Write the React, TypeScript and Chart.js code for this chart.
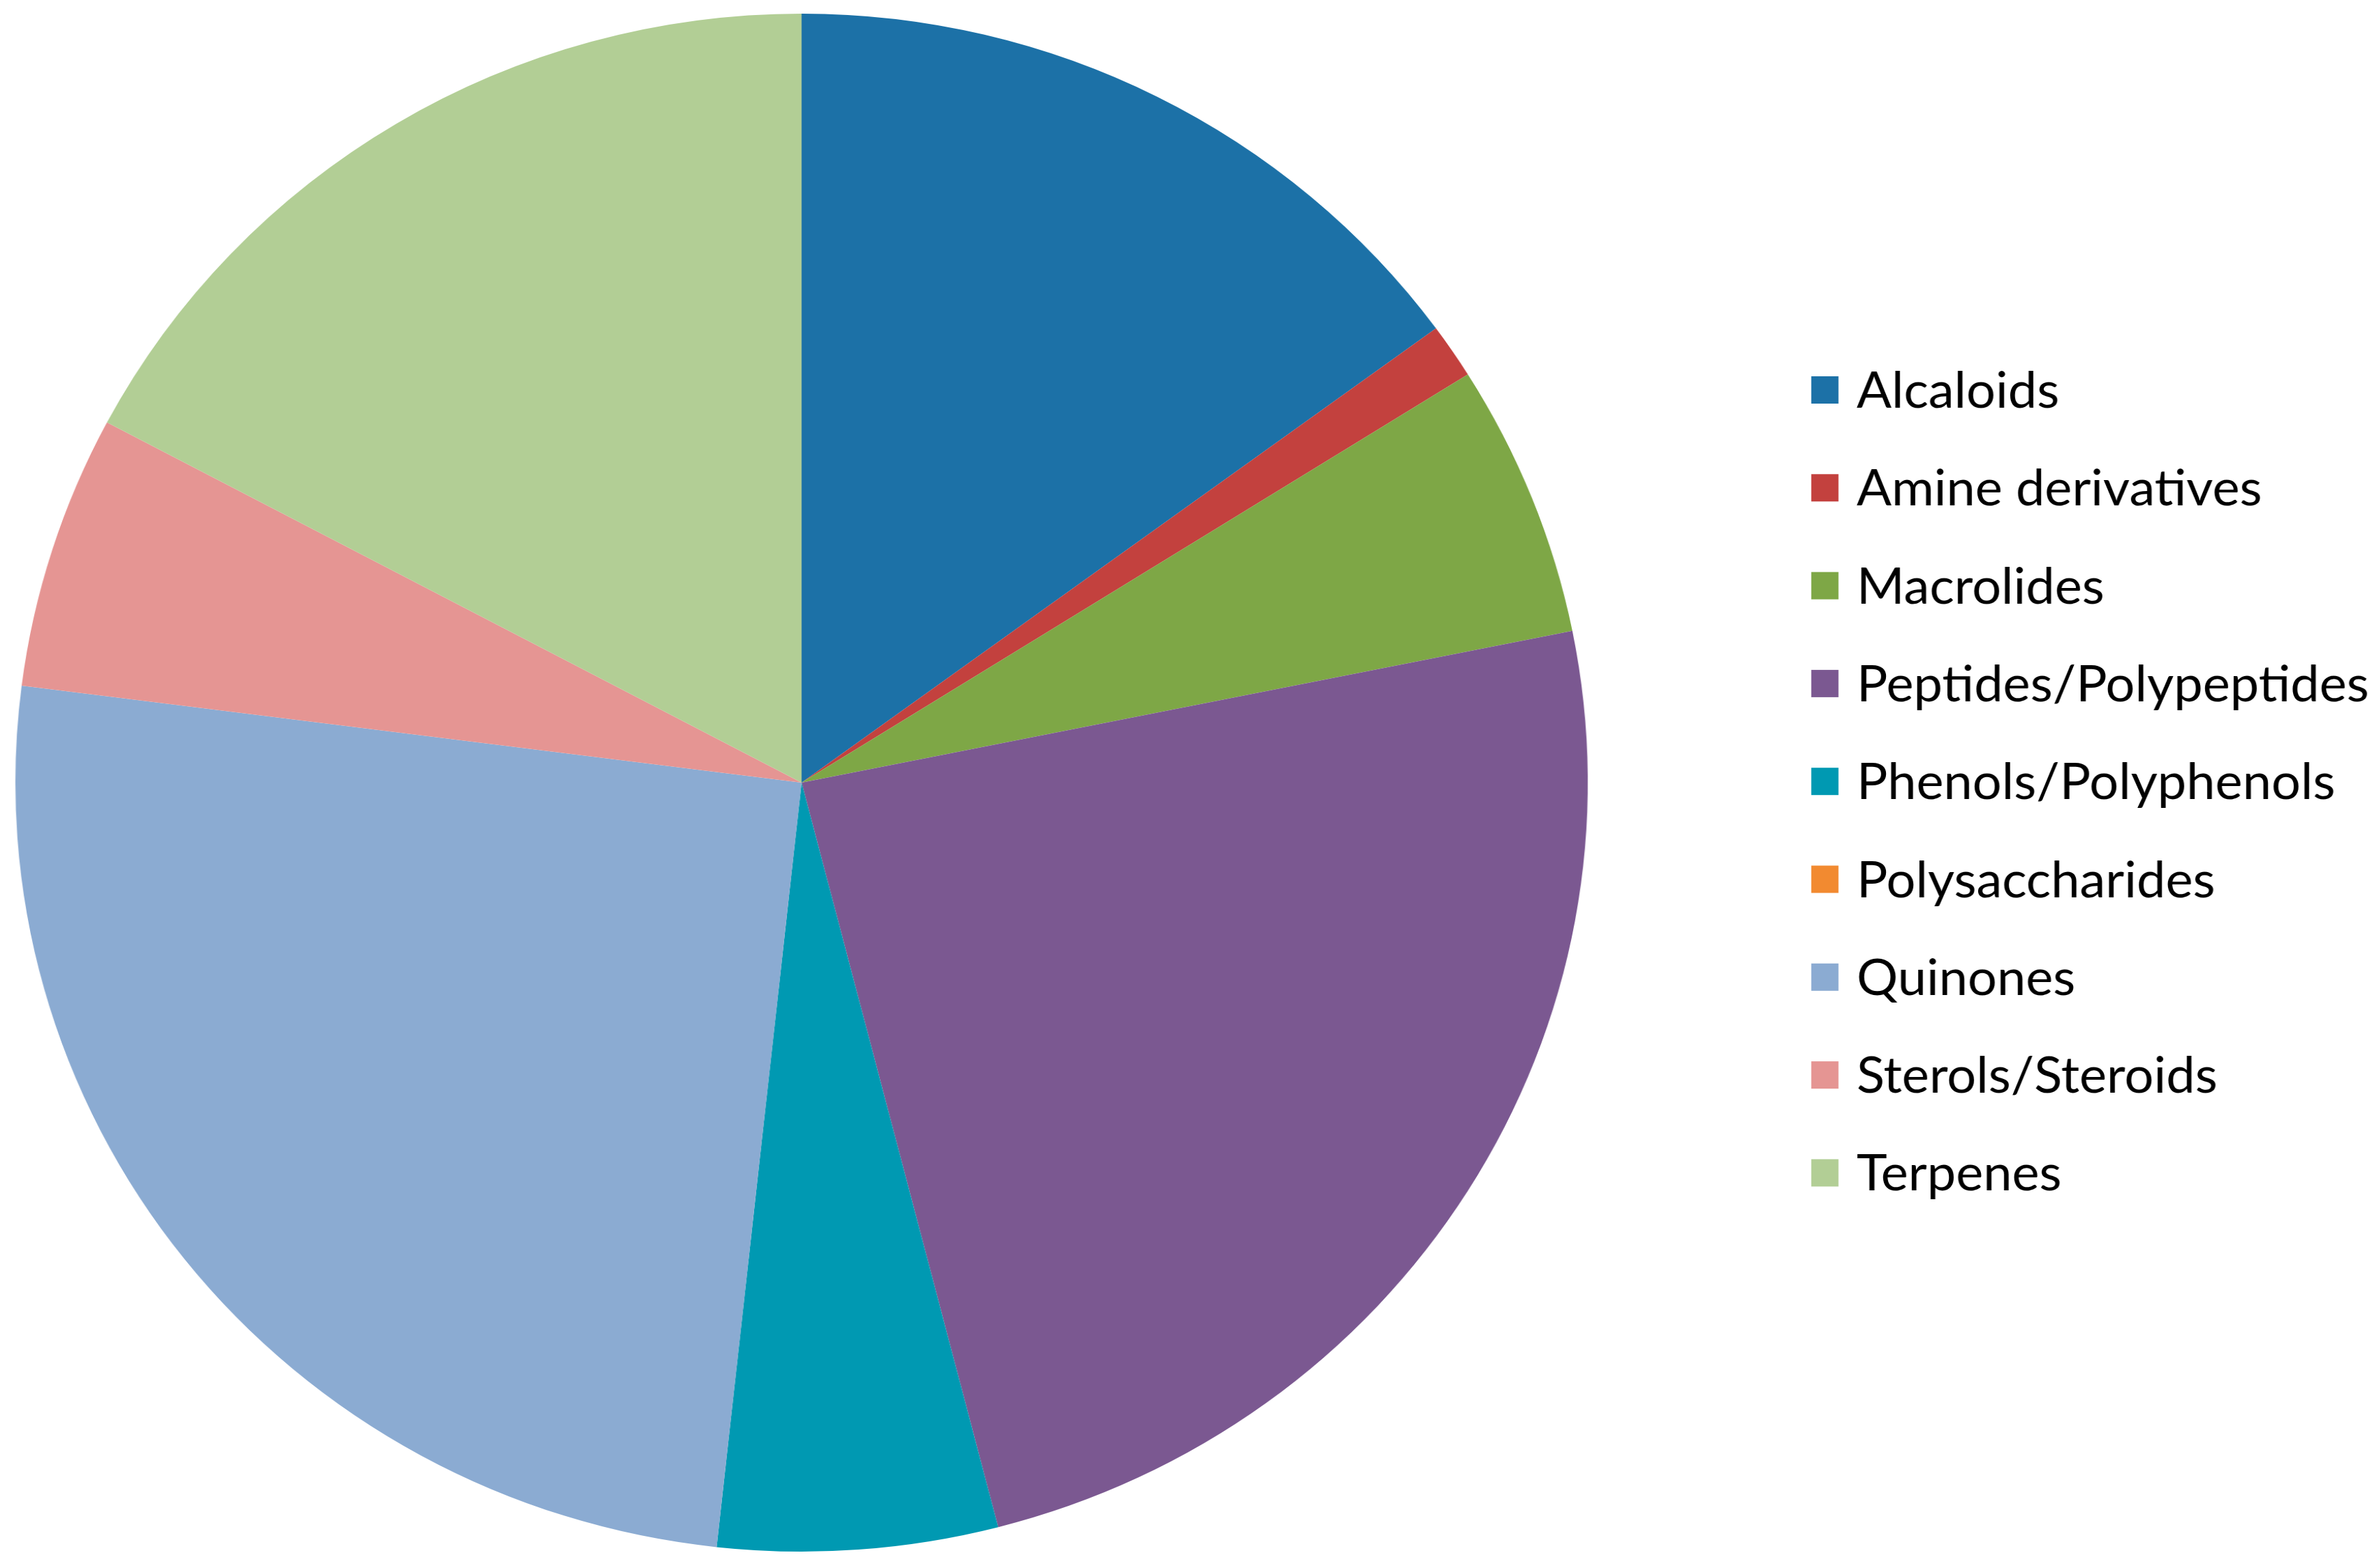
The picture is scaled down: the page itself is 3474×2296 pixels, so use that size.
import React, { useEffect, useRef } from "react";
import { Chart, registerables } from "chart.js";

Chart.register(...registerables);

const categories = [
  "Alcaloids",
  "Amine derivatives",
  "Macrolides",
  "Peptides/Polypeptides",
  "Phenols/Polyphenols",
  "Polysaccharides",
  "Quinones",
  "Sterols/Steroids",
  "Terpenes",
];
const counts = [13, 1, 5, 21, 5, 0, 22, 5, 15];
const sliceColors = [
  "#1C71A7",
  "#C3413E",
  "#7EA746",
  "#7B5891",
  "#0099B2",
  "#F28A30",
  "#8BABD2",
  "#E59593",
  "#B2CE95",
];

const W = 3474;
const H = 2296;
const STRETCH = 1.0222;
const CW = Math.round(W / STRETCH);

const sideLegend = {
  id: "sideLegend",
  afterDraw(chart: any) {
    const ctx = chart.ctx;
    const labels = chart.data.labels as string[];
    const colors = chart.data.datasets[0].backgroundColor as string[];
    ctx.save();
    ctx.font = "74px Lato";
    ctx.textBaseline = "alphabetic";
    ctx.textAlign = "left";
    labels.forEach((lab, i) => {
      const cy = 571 + i * 143.3;
      ctx.fillStyle = colors[i];
      ctx.fillRect(2594, cy - 20, 39, 40);
      ctx.fillStyle = "#000000";
      ctx.fillText(lab, 2659, cy + 26);
    });
    ctx.restore();
  },
};

export default function App() {
  const ref = useRef<HTMLCanvasElement | null>(null);
  useEffect(() => {
    if (!ref.current) return;
    const chart = new Chart(ref.current, {
      type: "pie",
      data: {
        labels: categories,
        datasets: [
          {
            data: counts,
            backgroundColor: sliceColors,
            borderColor: "#ffffff",
            borderWidth: 0,
            hoverBorderWidth: 0,
            hoverOffset: 0,
          },
        ],
      },
      options: {
        responsive: false,
        animation: false,
        events: [],
        layout: {
          padding: { left: 22, right: CW - 22 - 2252, top: 20, bottom: 24 },
        },
        plugins: {
          legend: { display: false },
          tooltip: { enabled: false },
        },
      },
      plugins: [sideLegend],
    });
    return () => chart.destroy();
  }, []);
  return (
    <div
      style={{
        position: "absolute",
        left: 0,
        top: 0,
        width: W,
        height: H,
        overflow: "hidden",
        background: "#ffffff",
      }}
    >
      <canvas
        ref={ref}
        width={CW}
        height={H}
        style={{
          display: "block",
          width: CW,
          height: H,
          transform: `scaleX(${STRETCH})`,
          transformOrigin: "0 0",
        }}
      />
    </div>
  );
}
